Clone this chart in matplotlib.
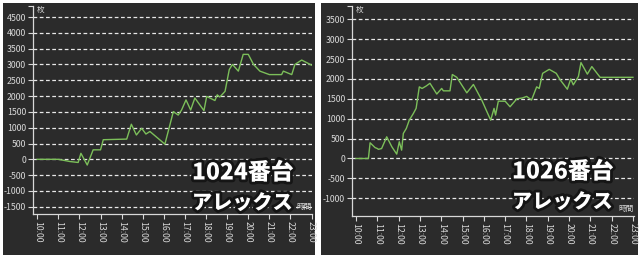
import matplotlib
matplotlib.use("Agg")
import matplotlib.pyplot as plt
import matplotlib.patheffects as pe
from matplotlib.patches import Rectangle

plt.rcParams['font.family'] = ['Noto Sans CJK JP', 'DejaVu Sans']

# hours of day / difference in medals
t_1024 = [10.0, 11.0, 11.55, 11.94, 12.07, 12.37, 12.65, 13.0, 13.13, 14.24,
          14.46, 14.7, 14.95, 15.15, 15.34, 16.05, 16.45, 16.68, 16.84, 17.05,
          17.27, 17.47, 17.9, 18.03, 18.42, 18.53, 18.65, 18.9, 19.1, 19.25,
          19.53, 19.76, 20.0, 20.25, 20.55, 21.0, 21.58, 21.66, 22.06, 22.21,
          22.53, 23.0]
v_1024 = [0, 0, -70, -100, 190, -180, 300, 300, 620, 640,
          1110, 770, 980, 800, 880, 480, 1510, 1400, 1560, 1880,
          1560, 1940, 1540, 1990, 1860, 2040, 1970, 2150, 2840, 3000,
          2790, 3320, 3320, 3000, 2790, 2680, 2680, 2790, 2680, 3000,
          3140, 2980]

t_1026 = [10.0, 10.58, 10.66, 10.89, 11.0, 11.05, 11.2, 11.44, 11.68, 11.91,
          12.03, 12.14, 12.22, 12.36, 12.5, 12.69, 12.82, 12.97, 13.1, 13.29,
          13.47, 13.79, 14.02, 14.1, 14.41, 14.52, 14.73, 15.2, 15.51, 15.9,
          16.32, 16.48, 16.55, 16.68, 17.0, 17.23, 17.55, 17.8, 18.01, 18.24,
          18.48, 18.6, 18.76, 19.07, 19.4, 19.58, 19.92, 20.08, 20.2, 20.44,
          20.56, 20.86, 21.07, 21.46, 23.0]
v_1026 = [0, 0, 395, 275, 250, 230, 250, 545, 295, 110,
          420, 210, 630, 755, 965, 1130, 1260, 1800, 1760, 1820,
          1890, 1620, 1760, 1700, 1700, 2110, 2040, 1650, 1860, 1470,
          965, 1260, 1090, 1440, 1440, 1300, 1500, 1520, 1560, 1470,
          1800, 1760, 2140, 2240, 2140, 1980, 1740, 2000, 1850, 2060,
          2410, 2120, 2310, 2040, 2040]

hours = list(range(10, 24))
hour_labels = ['%d:00' % h for h in hours]

ticks_1024 = list(range(-1500, 5000, 500))
ticks_1026 = list(range(-1000, 4000, 500))

BG = '#2b2b2b'
FG = '#d8d8d8'
LINE = '#7cbf5a'

fig = plt.figure(figsize=(6.4, 2.59), dpi=100, facecolor='white')
W, H = 640.0, 259.0

# dark panels behind each chart
for x0, x1 in [(3, 315), (321, 638)]:
    fig.patches.append(Rectangle((x0 / W, 4 / H), (x1 - x0) / W, 252 / H,
                                 transform=fig.transFigure, facecolor=BG,
                                 edgecolor='none', zorder=-10))


def draw(rect, t, v, yticks, ylim, xlim, title, name_xy):
    ax = fig.add_axes(rect)
    ax.set_facecolor('none')
    ax.plot(t, v, color=LINE, lw=1.0, zorder=3)
    ax.set_xlim(*xlim)
    ax.set_ylim(*ylim)
    ax.set_yticks(yticks)
    ax.set_yticklabels([str(y) for y in yticks])
    ax.set_xticks(hours)
    ax.set_xticklabels(hour_labels, rotation=270)
    ax.set_xticks([23], minor=True)
    ax.set_yticks([ylim[1]], minor=True)
    ax.tick_params(which='major', colors=FG, labelsize=6.3, length=3.5,
                   width=0.8, pad=1.5)
    ax.tick_params(which='minor', colors=FG, length=3.5, width=0.8)
    ax.tick_params(axis='x', which='minor', direction='in')
    for s in ['top', 'right']:
        ax.spines[s].set_visible(False)
    for s in ['left', 'bottom']:
        ax.spines[s].set_color(FG)
        ax.spines[s].set_linewidth(0.9)
    ax.grid(axis='y', color='#e8e8e8', ls=(0, (3, 2)), lw=0.9)
    ax.grid(axis='x', visible=False)
    ax.set_axisbelow(True)
    ax.text(0.015, 1.0, '枚', transform=ax.transAxes, color=FG, fontsize=5.5,
            va='top', ha='left')
    ax.text(1.0, 0.015, '時間', transform=ax.transAxes, color=FG,
            fontsize=5.5, va='bottom', ha='right', zorder=1)
    fx, fy = name_xy
    stroke = [pe.withStroke(linewidth=4, foreground='#151515')]
    fig.text(fx / W, 1 - fy / H, title, color='white', fontsize=16.5,
             fontweight='black', ha='left', va='center', path_effects=stroke,
             zorder=5)
    fig.text(fx / W, 1 - (fy + 30) / H, 'アレックス', color='white',
             fontsize=14.5, fontweight='black', ha='left', va='center',
             path_effects=stroke, zorder=5)
    return ax


draw([33 / W, 45 / H, 279 / W, 208 / H], t_1024, v_1024, ticks_1024,
     (-1730, 4850), (9.8, 23.02), '1024番台', (192, 173))
draw([352 / W, 43 / H, 282 / W, 210 / H], t_1026, v_1026, ticks_1026,
     (-1445, 3832), (9.81, 23.05), '1026番台', (512, 172))

fig.savefig('out.png', dpi=100, facecolor='white')
